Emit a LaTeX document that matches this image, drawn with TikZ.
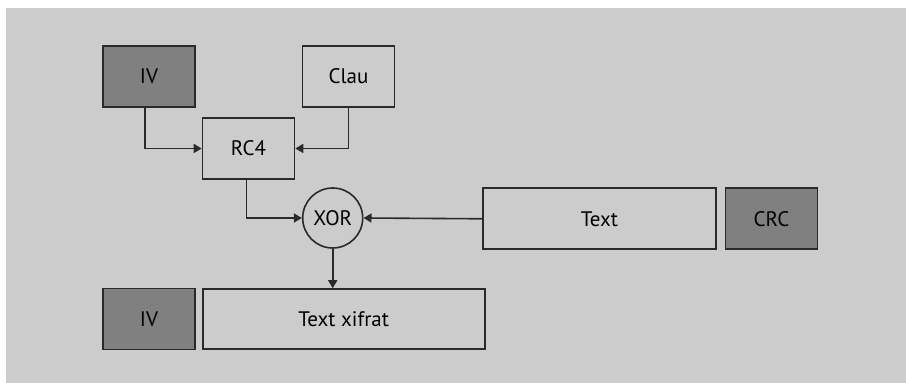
\documentclass[tikz,border=0pt]{standalone}
\usepackage{fontspec}
\setmainfont{PT Sans}
\usetikzlibrary{arrows.meta}
\definecolor{bggray}{HTML}{CCCCCC}
\definecolor{boxgray}{HTML}{808080}
\definecolor{linegray}{HTML}{2A2A2A}

\begin{document}
\begin{tikzpicture}[x=0.5pt,y=-0.5pt,
  every node/.style={draw=linegray, line width=0.8pt, inner sep=0pt, text=black, font=\fontsize{10.5}{12}\selectfont},
  plainbox/.style={rectangle, fill=bggray, minimum width=46pt, minimum height=30.5pt},
  darkbox/.style={plainbox, fill=boxgray},
  arr/.style={draw=linegray, line width=0.8pt, -{Triangle[length=4pt,width=4.5pt]}}]
\useasboundingbox (0,0) rectangle (906,383);
\fill[white] (0,0) rectangle (906,383);
\fill[bggray] (6,8) rectangle (906,383);

\node[darkbox] (iv) at (149,76.5) {IV};
\node[plainbox] (clau) at (348.5,76.5) {Clau};
\node[plainbox] (rc4) at (248.5,148.5) {RC4};
\node[circle, fill=bggray, minimum size=30pt] (xor) at (332.7,218) {XOR};
\node[plainbox, minimum width=116.5pt] (text) at (599.5,218.8) {Text};
\node[darkbox] (crc) at (771.5,218.8) {CRC};
\node[darkbox] (ivout) at (149,319) {IV};
\node[plainbox, minimum width=141pt, minimum height=30pt] (xifrat) at (343.7,319) {Text xifrat};

\draw[arr] ([xshift=-2pt]iv.south) |- (rc4.west);
\draw[arr] (clau.south) |- (rc4.east);
\draw[arr] ([xshift=-1pt]rc4.south) |- (xor.west);
\draw[arr] (text.west) -- (xor.east);
\draw[arr] (xor.south) -- (xor.south |- xifrat.north);
\end{tikzpicture}
\end{document}
